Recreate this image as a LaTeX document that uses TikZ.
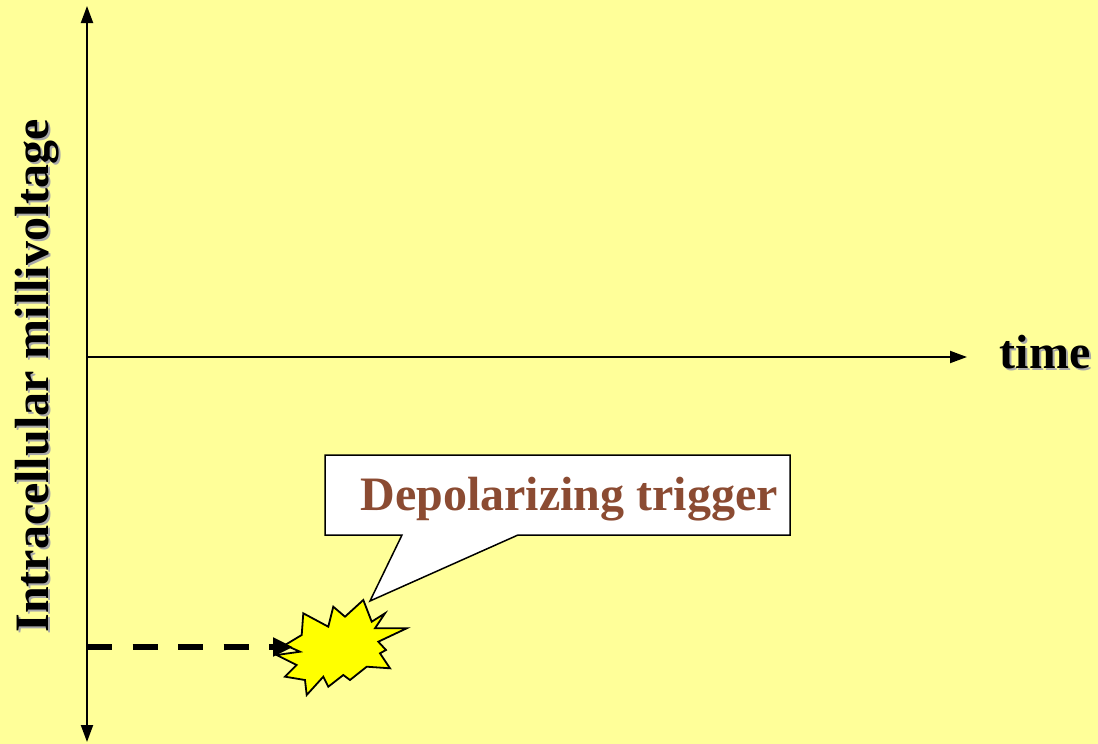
\documentclass[tikz,border=0pt]{standalone}
\usepackage{fontspec}
\setmainfont{Liberation Serif}
\usetikzlibrary{arrows.meta}
\definecolor{bgyellow}{HTML}{FFFF99}
\definecolor{labelbrown}{HTML}{8B4B32}
\definecolor{shadowgray}{HTML}{A8A8A8}
\definecolor{burstyellow}{HTML}{FFFF00}
\tikzset{
  axis/.style={line width=2pt,-{Triangle[length=17pt,width=12pt]}},
  biglabel/.style={font=\fontsize{48}{56}\selectfont\bfseries,inner sep=0pt},
  callout/.style={draw=black,line width=1.5pt,fill=white},
  burst/.style={draw=black,line width=1.8pt,fill=burstyellow,line join=miter},
  trigarrow/.style={line width=6.5pt,dash pattern=on 25pt off 20.5pt,-{Triangle[length=20pt,width=18pt]}}
}
\begin{document}
\begin{tikzpicture}[x=1pt,y=-1pt]
\fill[bgyellow] (0,0) rectangle (1098,744);
\useasboundingbox (0,0) rectangle (1098,744);
% axes
\coordinate (ybot) at (87,742);
\coordinate (ytop) at (87,6);
\coordinate (xl) at (87,357);
\coordinate (xr) at (967,357);
\draw[axis] (87,720) -- (ybot);
\draw[axis] (87,30) -- (ytop);
\draw[line width=2pt] (87,30) -- (87,720);
\draw[axis] (xl) -- (xr);
% labels with shadow
\node[biglabel,text=shadowgray,anchor=base] at (1047,370) {time};
\node[biglabel,anchor=base] (time) at (1045,368) {time};
\node[biglabel,text=shadowgray,rotate=90,anchor=base] at (50,378) {Intracellular millivoltage};
\node[biglabel,rotate=90,anchor=base] (ylab) at (48,376) {Intracellular millivoltage};
% callout
\coordinate (tip) at (370,601);
\draw[callout] (325,455) -- (790,455) -- (790,535) -- (518,535) -- (tip) -- (402,535) -- (325,535) -- cycle;
\node[biglabel,text=labelbrown,anchor=base] (trig) at (569,510) {Depolarizing trigger};
% burst
\draw[burst] (285,645) -- (301.7,635) -- (303.3,613.3) -- (328.3,626.7) -- (333.3,606.7) -- (345,616.7) -- (363.3,600) -- (371.7,621.7) -- (385,613.3) -- (375,628.3) -- (406.7,628.3) -- (378.3,641.7) -- (386,650) -- (380,653.3) -- (390,668.3) -- (366.7,666.7) -- (350,680) -- (343.3,675) -- (328.3,686.7) -- (323.3,676.7) -- (306.7,695) -- (305,680) -- (285,676.7) -- (296.7,665) -- (276.7,655) -- (300,651.7) -- cycle;
\coordinate (burstleft) at (293,647);
\coordinate (dashstart) at (87,647);
\draw[trigarrow] (dashstart) -- (burstleft);
\end{tikzpicture}
\end{document}
